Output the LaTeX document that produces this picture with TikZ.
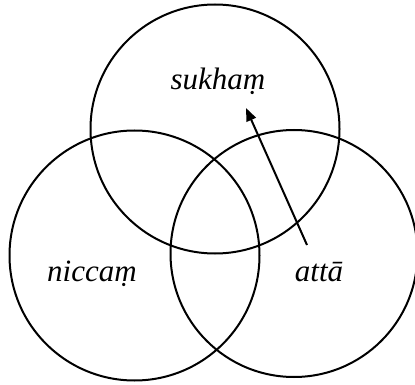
\documentclass[tikz,border=0pt]{standalone}
\usepackage{fontspec}
\setmainfont{Liberation Serif}
\usetikzlibrary{arrows.meta}

\begin{document}
\begin{tikzpicture}[
  x=1pt, y=-1pt,
  ring/.style={circle, draw=black, line width=2pt, inner sep=0pt, minimum size=#1},
  word/.style={font=\fontsize{31}{36}\selectfont\itshape, anchor=base, inner sep=0pt},
  arr/.style={-{Triangle[length=13pt, width=10pt]}, draw=black, line width=2pt}
]
\useasboundingbox (0,0) rectangle (415,385);
\node[ring=249pt] (top) at (215,129) {};
\node[ring=250pt] (left) at (134.5,255.5) {};
\node[ring=247pt] (right) at (294,253.5) {};
\node[word] (sukham) at (218,90) {sukhaṃ};
\node[word] (niccam) at (92,281) {niccaṃ};
\node[word] (atta) at (319,281) {attā};
\coordinate (tail) at (307,245);
\coordinate (tip) at (246,108);
\draw[arr] (tail) -- (tip);
\end{tikzpicture}
\end{document}
